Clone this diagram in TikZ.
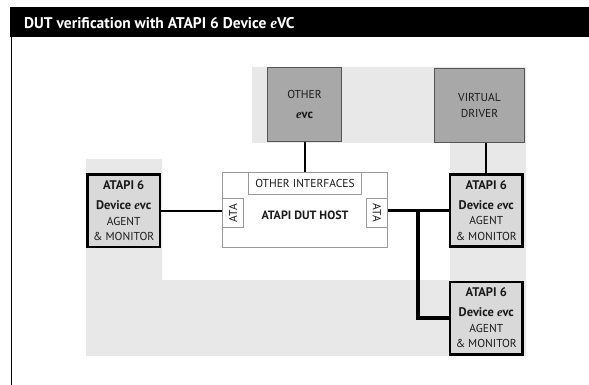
\documentclass[tikz,border=0pt]{standalone}
\usepackage{fontspec}
\setmainfont{PT Sans}
\newfontfamily\serifit{Liberation Serif}
\newcommand\ite{{\serifit\itshape e}}
\newcommand\bigb[1]{{\fontsize{12.5}{15.5}\selectfont\bfseries #1}}
\definecolor{bggray}{HTML}{E8E8E8}
\definecolor{agentgray}{HTML}{D9D9D9}
\definecolor{dkgray}{HTML}{A8A8A8}
\definecolor{dkborder}{HTML}{555555}
\definecolor{thin}{HTML}{999999}
\definecolor{txt}{HTML}{1A1A1A}
\tikzset{
  agent/.style={draw=black, line width=2.6pt, fill=agentgray, minimum width=72.4pt, minimum height=72.4pt,
    align=center, inner sep=0pt, text=txt, font=\fontsize{11.5}{15.5}\selectfont},
  evcbox/.style={draw=dkborder, line width=0.9pt, fill=dkgray, inner sep=0pt, align=center, text=txt,
    font=\fontsize{11.5}{16}\selectfont},
  thinbox/.style={draw=thin, line width=0.8pt, fill=white, inner sep=0pt, text=txt,
    font=\fontsize{11.5}{12}\selectfont},
  wire/.style={line width=2pt, black},
  bus/.style={line width=3.8pt, black},
}
\begin{document}
\begin{tikzpicture}[x=1pt,y=-1pt]
\useasboundingbox (0,0) rectangle (589,385);
% background region
\fill[bggray] (86,159) -- (162,159) -- (162,280) -- (450,280) -- (450,143) -- (252,143) -- (252,67)
  -- (526,67) -- (526,356) -- (86,356) -- cycle;
% title
\fill[black] (10,7) rectangle (589,37);
\node[anchor=base west, inner sep=0pt, text=white, font=\fontsize{15.5}{18}\selectfont\bfseries] (title)
  at (24,29) {DUT verification with ATAPI 6 Device \ite VC};
\draw[line width=1.5pt] (11.5,37) -- (11.5,385);
% boxes
\node[thinbox, minimum width=165.2pt, minimum height=75.2pt] (dut) at (305,210) {};
\node[thinbox, minimum width=113.2pt, minimum height=22.6pt] (oif) at (305,183.5) {OTHER INTERFACES};
\node[thinbox, minimum width=21.2pt, minimum height=29.2pt] (lata) at (233,213) {\rotatebox{90}{ATA}};
\node[thinbox, minimum width=21.2pt, minimum height=29.2pt] (rata) at (377,213) {\rotatebox{-90}{ATA}};
\node[inner sep=0pt, text=txt, font=\fontsize{12}{12}\selectfont\bfseries] (host) at (305,215.5) {ATAPI DUT HOST};
\node[evcbox, minimum width=74.1pt, minimum height=74.1pt] (oevc) at (304.5,104.5) {OTHER\\[4pt]\bigb{\ite vc}};
\node[evcbox, minimum width=90.1pt, minimum height=74.1pt] (vd) at (479.5,105.5) {VIRTUAL\\DRIVER};
% connectors
\draw[wire] (oevc.south) -- (oevc.south |- dut.north);
\coordinate (j) at (418,210.5);
\node[agent] (la) at (123.7,210.7) {\bigb{ATAPI 6}\\[4.5pt]\bigb{Device \ite vc}\\AGENT\\\& MONITOR};
\node[agent] (ra) at (486.3,210.5) {\bigb{ATAPI 6}\\[4.5pt]\bigb{Device \ite vc}\\AGENT\\\& MONITOR};
\node[agent] (lra) at (486.3,318) {\bigb{ATAPI 6}\\[4.5pt]\bigb{Device \ite vc}\\AGENT\\\& MONITOR};
\draw[wire] (la.east) -- (la.east -| dut.west);
\draw[wire] (ra.north) -- (ra.north |- vd.south);
\draw[bus] (dut.east |- ra.west) -- (ra.west);
\draw[bus] (j) |- (lra.west);
\end{tikzpicture}
\end{document}
